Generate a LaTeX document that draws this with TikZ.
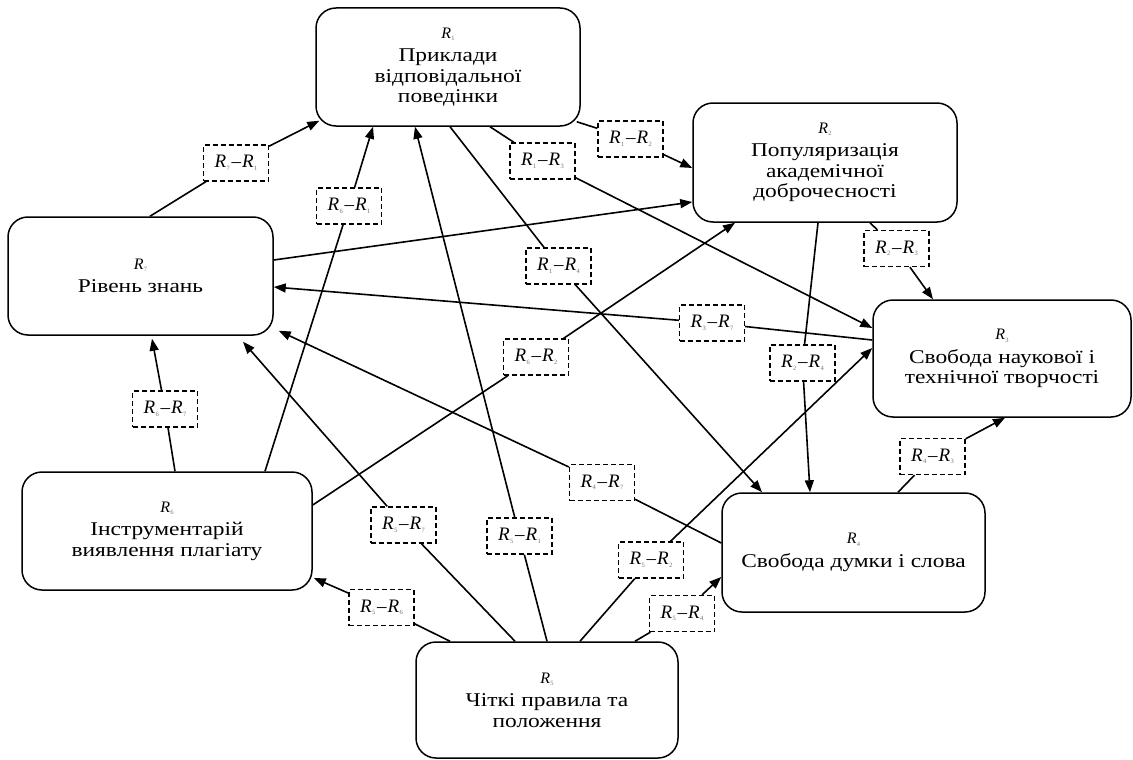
\documentclass[tikz,border=0pt]{standalone}
\usepackage{fontspec}
\setmainfont{Liberation Serif}[FakeStretch=1.2]
\newfontfamily\rfont{Liberation Serif}
\usetikzlibrary{arrows.meta}

% italic R with a small index
\newcommand{\rsub}[2]{{\rfont\fontsize{#1}{#1}\selectfont\itshape R}\kern0.4pt\raisebox{-2.5pt}{\rfont\fontsize{6.5}{6.5}\selectfont\color{black!55}#2}}
\newcommand{\rhead}[1]{\rsub{16}{#1}}
\newcommand{\rpair}[2]{\rsub{19}{#1}\,{\rfont\fontsize{19}{19}\selectfont –}\kern1pt\rsub{19}{#2}}

\begin{document}
\begin{tikzpicture}[x=1pt,y=-1pt,
  factor/.style={draw, line width=1.5pt, rounded corners=20pt, align=center,
    inner sep=0pt, font=\fontsize{19.5}{20.5}\selectfont},
  pair/.style={draw, dash pattern=on 5pt off 3pt, line width=1.3pt,
    minimum width=65pt, minimum height=36pt, inner sep=0pt},
  link/.style={line width=1.6pt},
  arr/.style={link, -{Triangle[length=12pt,width=9pt]}}]
\useasboundingbox (0,0) rectangle (1133,760);

% factors
\node[factor, minimum width=264pt, minimum height=118pt] (R1) at (448,67)
  {\rhead{1}\\[3pt] Приклади\\ відповідальної\\ поведінки};
\node[factor, minimum width=264pt, minimum height=119pt] (R2) at (825,162.5)
  {\rhead{2}\\[3pt] Популяризація\\ академічної\\ доброчесності};
\node[factor, minimum width=258pt, minimum height=117pt] (R3) at (1002,358.5)
  {\rhead{3}\\[3pt] Свобода наукової і\\ технічної творчості};
\node[factor, minimum width=263pt, minimum height=119pt] (R4) at (853.5,552.5)
  {\rhead{4}\\[3pt] Свобода думки і слова};
\node[factor, minimum width=262pt, minimum height=116pt] (R5) at (547,700)
  {\rhead{5}\\[3pt] Чіткі правила та\\ положення};
\node[factor, minimum width=290pt, minimum height=118pt] (R6) at (167,531)
  {\rhead{6}\\[3pt] Інструментарій\\ виявлення плагіату};
\node[factor, minimum width=265pt, minimum height=118pt] (R7) at (140.5,276)
  {\rhead{7}\\[3pt] Рівень знань};

% relation labels
\node[pair] (L71) at (236,163)   {\rpair{7}{1}};
\node[pair] (L61) at (349,206)   {\rpair{6}{1}};
\node[pair] (L51) at (519.5,536) {\rpair{5}{1}};
\node[pair] (L12) at (630.5,139) {\rpair{1}{2}};
\node[pair] (L13) at (542.5,161) {\rpair{1}{3}};
\node[pair] (L14) at (558.5,266) {\rpair{1}{4}};
\node[pair] (L37) at (712,323)   {\rpair{3}{7}};
\node[pair] (L23) at (896.5,248.5){\rpair{2}{3}};
\node[pair] (L24) at (802.5,363) {\rpair{2}{4}};
\node[pair] (L43) at (932.5,456.5){\rpair{4}{3}};
\node[pair] (L52) at (651,560)   {\rpair{5}{2}};
\node[pair] (L62) at (536,357)   {\rpair{6}{2}};
\node[pair] (L54) at (682,613.5) {\rpair{5}{4}};
\node[pair] (L56) at (381.5,607.5){\rpair{5}{6}};
\node[pair] (L57) at (403.5,525) {\rpair{5}{7}};
\node[pair] (L67) at (165,409)   {\rpair{6}{7}};
\node[pair] (L47) at (602,482.5) {\rpair{4}{7}};

% influences
\draw[link] ([xshift=9.5pt]R7.north) -- (L71);
\draw[arr]  (L71) -- ([xshift=4pt,yshift=6pt]R1.south west);
\draw[link] ([xshift=98pt]R6.north) -- (L61);
\draw[arr]  (L61) -- ([xshift=-75pt]R1.south);
\draw[link] (R5.north) -- (L51);
\draw[arr]  (L51) -- ([xshift=-33pt]R1.south);
\draw[link] ([xshift=-4pt,yshift=5pt]R1.south east) -- (L12);
\draw[arr]  (L12) -- ([yshift=-5.5pt]R2.west);
\draw[link] ([xshift=42pt]R1.south) -- (L13);
\draw[arr]  (L13) -- ([yshift=30.5pt]R3.west);
\draw[link] ([xshift=2pt]R1.south) -- (L14);
\draw[arr]  (L14) -- ([xshift=-91.5pt]R4.north);
\draw[arr]  ([yshift=16pt]R7.east) -- ([yshift=-39.5pt]R2.west);
\draw[link] ([yshift=18.5pt]R3.west) -- (L37);
\draw[arr]  (L37) -- ([yshift=-11pt]R7.east);
\draw[link] ([xshift=45pt]R2.south) -- (L23);
\draw[arr]  (L23) -- ([xshift=-69pt]R3.north);
\draw[link] ([xshift=-7pt]R2.south) -- (L24);
\draw[arr]  (L24) -- ([xshift=-43.5pt]R4.north);
\draw[link] ([xshift=44.5pt]R4.north) -- (L43);
\draw[arr]  (L43) -- ([xshift=3pt]R3.south);
\draw[link] ([xshift=33pt]R5.north) -- (L52);
\draw[arr]  (L52) -- ([yshift=10.5pt]R3.west);
\draw[link] ([yshift=26pt]R6.east) -- (L62);
\draw[arr]  (L62) -- ([xshift=-90pt]R2.south);
\draw[link] ([xshift=88pt]R5.north) -- (L54);
\draw[arr]  (L54) -- ([yshift=-24.5pt]R4.west);
\draw[link] ([xshift=-97pt]R5.north) -- (L56);
\draw[arr]  (L56) -- ([xshift=1pt,yshift=-47pt]R6.east);
\draw[link] ([xshift=-32pt]R5.north) -- (L57);
\draw[arr]  (L57) -- ([xshift=102.5pt,yshift=-6pt]R7.south);
\draw[link] ([xshift=8pt]R6.north) -- (L67);
\draw[arr]  (L67) -- ([xshift=11.5pt,yshift=-3pt]R7.south);
\draw[link] ([yshift=9.5pt]R4.west) -- (L47);
\draw[arr]  (L47) -- ([xshift=5pt,yshift=5pt]R7.south east);
\end{tikzpicture}
\end{document}
